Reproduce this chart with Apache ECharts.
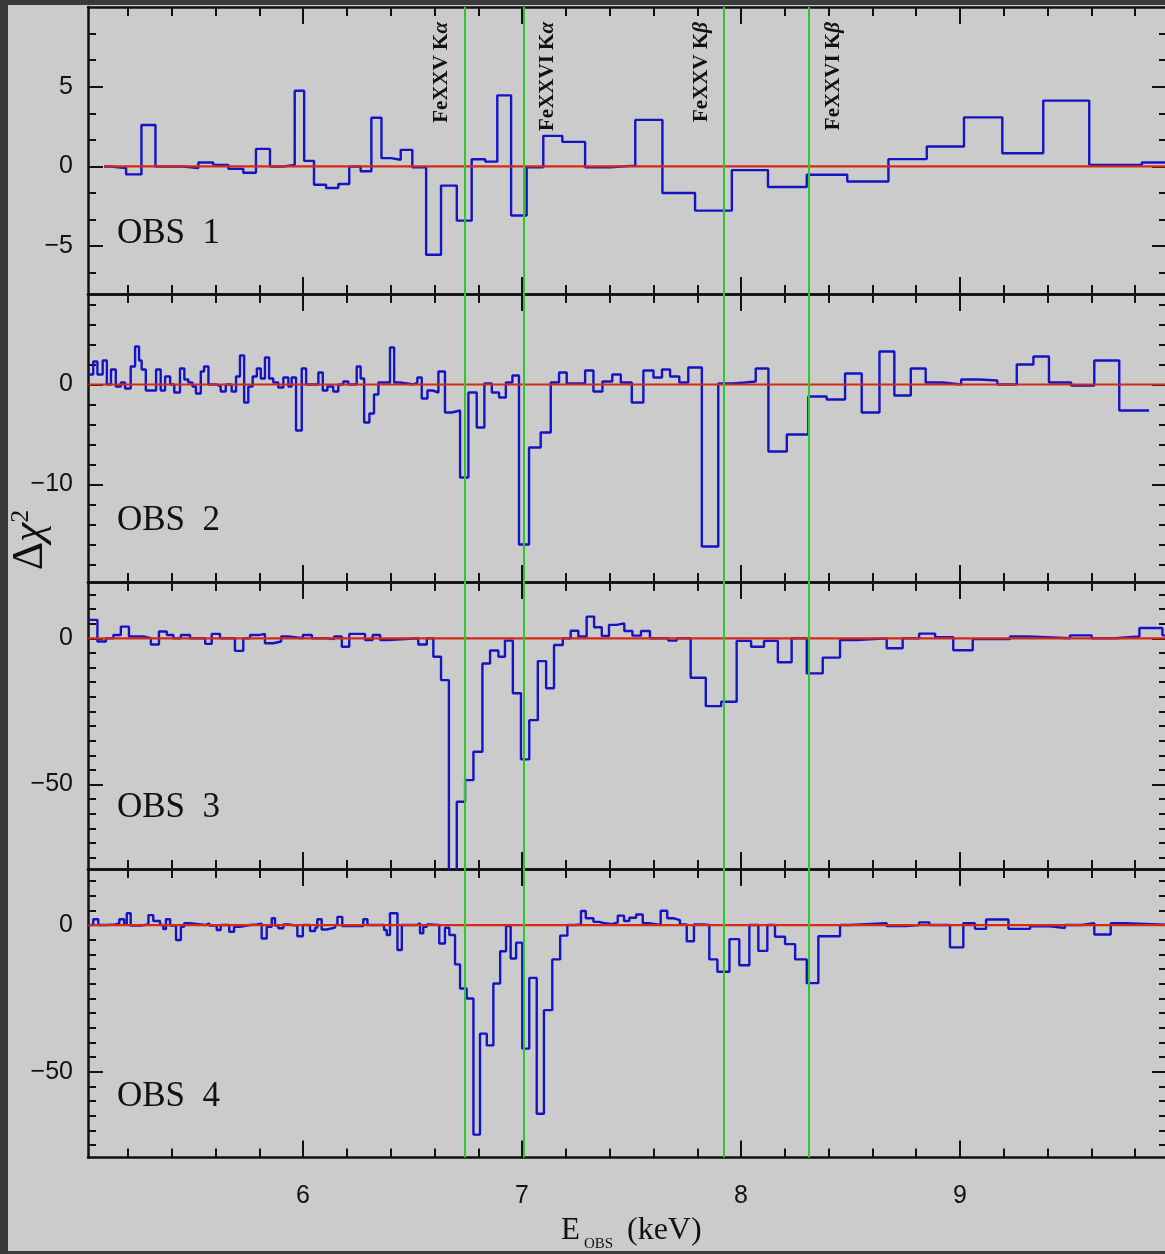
<!DOCTYPE html>
<html>
<head>
<meta charset="utf-8">
<script src="https://cdn.jsdelivr.net/npm/echarts@6/dist/echarts.min.js"></script>
<style>
  html, body { margin: 0; padding: 0; background: #3a3a3a; }
  #chart { width: 1165px; height: 1254px; }
</style>
</head>
<body>
<div id="chart"></div>
<script>
// ---- Energy axis (keV) ----
const E_MIN = 5.018;
const E_MAX = 9.945;
const E_MAJOR_TICKS = [6, 7, 8, 9];
const E_MINOR_TICKS = [5.2, 5.4, 5.6, 5.8, 6.2, 6.4, 6.6, 6.8, 7.2, 7.4, 7.6, 7.8,
                       8.2, 8.4, 8.6, 8.8, 9.2, 9.4, 9.6, 9.8];

// ---- Observed energies of the iron lines ----
const LINE_NAMES = ['FeXXV K', 'FeXXVI K', 'FeXXV K', 'FeXXVI K'];
const LINE_GREEK = ['α', 'α', 'β', 'β'];
const LINE_ENERGIES = [6.742, 7.007, 7.925, 8.313];
const LINE_LABEL_SIDE = [-1, 1, -1, 1];

// ---- Panels ----
const OBS_NAMES = ['OBS  1', 'OBS  2', 'OBS  3', 'OBS  4'];
const Y_RANGES = [[-8, 10], [-19.75, 9.05], [-78.9, 19.25], [-79.2, 19.1]];
const Y_MAJOR_TICKS = [[-5, 0, 5], [-10, 0], [-50, 0], [-50, 0]];
const Y_MINOR_TICKS = [
  [-6.667, -3.333, -1.667, 1.667, 3.333, 6.667, 8.333],
  [-18, -16, -14, -12, -8, -6, -4, -2, 2, 4, 6, 8],
  [-75, -70, -65, -60, -55, -45, -40, -35, -30, -25, -20, -15, -10, -5, 5, 10, 15],
  [-75, -70, -65, -60, -55, -45, -40, -35, -30, -25, -20, -15, -10, -5, 5, 10, 15]
];

// ---- Residuals: bin edges (keV, last entry = upper edge of last bin) and delta chi^2 per bin ----
const OBS1_EDGES = [5.091, 5.119, 5.192, 5.262, 5.326, 5.453, 5.522, 5.590, 5.659, 5.727,
  5.785, 5.849, 5.910, 5.962, 6.005, 6.050, 6.105, 6.161, 6.211, 6.263,
  6.312, 6.358, 6.402, 6.446, 6.499, 6.562, 6.630, 6.702, 6.770, 6.832,
  6.887, 6.950, 7.021, 7.097, 7.184, 7.288, 7.402, 7.517, 7.641, 7.790,
  7.958, 8.123, 8.300, 8.485, 8.673, 8.848, 9.018, 9.193, 9.380, 9.590,
  9.830, 9.990];
const OBS1_DCHI = [0.0, -0.1, -0.5, 2.6, 0.0, -0.1, 0.25, 0.1, -0.15, -0.4,
  1.1, 0.0, 0.1, 4.75, 0.35, -1.15, -1.35, -1.1, 0.0, -0.3,
  3.05, 0.52, 0.42, 1.04, -0.05, -5.54, -1.2, -3.4, 0.45, 0.3,
  4.46, -3.08, -0.05, 1.92, 1.54, -0.05, 0.05, 2.92, -1.67, -2.77,
  -0.23, -1.29, -0.52, -0.94, 0.46, 1.25, 3.08, 0.83, 4.13, 0.1,
  0.25];

const OBS2_EDGES = [5.020, 5.042, 5.061, 5.085, 5.104, 5.123, 5.145, 5.168, 5.187, 5.213,
  5.233, 5.251, 5.263, 5.282, 5.329, 5.350, 5.370, 5.393, 5.412, 5.438,
  5.458, 5.476, 5.495, 5.511, 5.533, 5.548, 5.568, 5.606, 5.624, 5.647,
  5.674, 5.694, 5.712, 5.731, 5.750, 5.770, 5.789, 5.807, 5.826, 5.845,
  5.864, 5.887, 5.910, 5.933, 5.948, 5.968, 5.994, 6.014, 6.070, 6.090,
  6.111, 6.138, 6.161, 6.184, 6.207, 6.245, 6.263, 6.279, 6.303, 6.324,
  6.344, 6.397, 6.416, 6.443, 6.504, 6.522, 6.542, 6.568, 6.592, 6.618,
  6.648, 6.679, 6.717, 6.755, 6.793, 6.828, 6.862, 6.895, 6.926, 6.956,
  6.986, 7.032, 7.085, 7.131, 7.169, 7.204, 7.288, 7.326, 7.367, 7.412,
  7.451, 7.501, 7.554, 7.600, 7.639, 7.676, 7.718, 7.759, 7.821, 7.896,
  7.965, 8.018, 8.067, 8.125, 8.209, 8.307, 8.391, 8.475, 8.551, 8.632,
  8.700, 8.775, 8.843, 8.921, 9.005, 9.087, 9.170, 9.259, 9.335, 9.406,
  9.507, 9.613, 9.727, 9.863];
const OBS2_DCHI = [1.0, 2.3, 1.0, 2.4, 0.0, 1.5, -0.2, 0.2, -0.4, 1.8,
  3.8, 2.4, 1.5, -0.6, 1.5, -0.6, 0.8, 0.0, -0.8, 1.6,
  0.5, 0.2, -0.2, -0.9, 1.3, 1.8, 0.0, -0.2, -0.7, 0.0,
  -0.7, 0.8, 2.9, -1.8, -0.2, 0.8, 1.6, 0.6, 2.7, 0.6,
  0.2, -0.3, 0.7, -0.2, 0.7, -4.6, 1.6, 0.0, 1.2, -0.6,
  -0.2, -0.7, 0.0, 0.3, 0.0, 1.8, 0.6, -3.8, -2.9, -1.0,
  0.2, 3.7, 0.2, 0.0, 0.2, 0.7, -1.4, -0.6, -0.8, 1.3,
  -2.8, -2.6, -9.3, -0.8, -4.3, 0.1, -0.8, -1.3, 0.2, 0.9,
  -16.0, -6.3, -4.8, 0.2, 1.2, 0.1, 1.4, -0.7, 0.3, 1.0,
  0.2, -1.8, 1.4, 0.7, 1.5, 0.8, 0.2, 1.7, -16.2, 0.1,
  0.2, 0.3, 1.6, -6.7, -5.0, -1.2, -1.5, 1.1, -2.8, 3.3,
  -1.1, 1.6, 0.2, 0.0, 0.5, 0.4, 0.0, 2.0, 2.8, 0.2,
  -0.1, 2.4, -2.6];

const OBS3_EDGES = [5.020, 5.061, 5.100, 5.134, 5.168, 5.205, 5.271, 5.305, 5.342, 5.378,
  5.408, 5.442, 5.484, 5.553, 5.583, 5.621, 5.689, 5.727, 5.758, 5.796,
  5.826, 5.864, 5.900, 5.933, 5.999, 6.040, 6.108, 6.142, 6.177, 6.211,
  6.283, 6.318, 6.352, 6.390, 6.526, 6.565, 6.595, 6.630, 6.666, 6.702,
  6.740, 6.778, 6.819, 6.854, 6.892, 6.922, 6.958, 6.995, 7.033, 7.072,
  7.110, 7.146, 7.186, 7.222, 7.257, 7.295, 7.329, 7.364, 7.397, 7.432,
  7.467, 7.504, 7.543, 7.584, 7.668, 7.706, 7.770, 7.839, 7.909, 7.980,
  8.046, 8.105, 8.168, 8.231, 8.300, 8.373, 8.452, 8.528, 8.665, 8.738,
  8.813, 8.886, 8.969, 9.058, 9.228, 9.312, 9.502, 9.601, 9.708, 9.819,
  9.924, 9.990];
const OBS3_DCHI = [6.3, -1.1, 0.0, 1.1, 4.0, 0.6, 0.0, -2.1, 2.3, 1.1,
  0.0, 1.1, 0.0, -1.9, 1.5, 0.0, -4.3, 0.0, 1.1, 1.5,
  -1.7, -1.1, 0.6, 0.0, 1.1, 0.0, -0.3, 0.6, -2.9, 1.5,
  -0.6, 1.1, -0.6, 0.0, -2.1, 0.0, -6.3, -14.3, -96.0, -55.9,
  -48.5, -38.8, -8.6, -4.2, -6.3, -0.8, -18.8, -41.4, -28.0, -7.8,
  -17.1, -2.3, 0.0, 2.6, 0.6, 7.4, 3.8, 0.8, 4.6, 5.1,
  2.5, 0.9, 2.5, 0.0, -0.8, 0.0, -13.5, -23.2, -21.7, -0.9,
  -2.9, -0.9, -8.2, 0.0, -12.0, -6.6, -0.6, 0.0, -3.4, 0.0,
  1.6, 0.4, -4.1, -0.3, 0.6, 0.0, 1.0, 0.0, 0.6, 3.5,
  1.0];

const OBS4_EDGES = [5.020, 5.042, 5.065, 5.104, 5.142, 5.161, 5.183, 5.195, 5.213, 5.256,
  5.294, 5.316, 5.347, 5.362, 5.374, 5.393, 5.420, 5.442, 5.457, 5.484,
  5.553, 5.572, 5.606, 5.624, 5.663, 5.685, 5.712, 5.758, 5.789, 5.811,
  5.834, 5.857, 5.872, 5.887, 5.910, 5.933, 5.974, 5.999, 6.032, 6.055,
  6.065, 6.085, 6.108, 6.146, 6.157, 6.179, 6.275, 6.294, 6.370, 6.382,
  6.397, 6.431, 6.451, 6.519, 6.534, 6.549, 6.565, 6.580, 6.622, 6.648,
  6.668, 6.694, 6.717, 6.747, 6.778, 6.808, 6.839, 6.869, 6.900, 6.927,
  6.948, 6.973, 7.001, 7.033, 7.067, 7.100, 7.138, 7.174, 7.207, 7.242,
  7.269, 7.291, 7.326, 7.353, 7.379, 7.410, 7.437, 7.466, 7.490, 7.521,
  7.551, 7.577, 7.633, 7.663, 7.694, 7.721, 7.752, 7.785, 7.825, 7.855,
  7.892, 7.947, 7.992, 8.038, 8.079, 8.120, 8.155, 8.201, 8.247, 8.300,
  8.353, 8.452, 8.498, 8.665, 8.757, 8.813, 8.860, 8.954, 9.015, 9.068,
  9.119, 9.221, 9.320, 9.411, 9.479, 9.556, 9.613, 9.688, 9.753, 9.990];
const OBS4_DCHI = [0.0, 2.0, 0.0, 0.2, 0.6, 2.0, 0.2, 4.0, -0.2, 0.2,
  3.4, 1.4, 0.0, -1.4, 2.0, -0.2, -5.1, -0.6, 0.6, 0.0,
  0.6, -0.2, -1.7, 0.0, -2.3, -0.6, 0.0, 0.2, 0.5, -4.6,
  -0.6, 2.3, -0.2, -1.1, 0.2, -0.2, -3.8, 0.0, -2.0, -0.9,
  2.0, -1.5, -0.9, 0.0, 2.8, -0.3, 2.0, 0.0, -1.7, -3.4,
  4.0, -8.5, 0.0, 0.6, -2.8, -0.6, 0.2, 0.0, -6.3, -0.9,
  -3.4, -13.4, -21.6, -25.0, -71.4, -37.0, -41.0, -19.9, -8.9, -0.3,
  -11.4, -6.0, -42.1, -18.0, -64.3, -29.0, -11.7, -3.6, 0.0, 0.2,
  4.8, 2.3, 1.1, 0.6, 0.3, 0.9, 3.2, 1.4, 2.5, 3.6,
  0.6, 0.0, 4.9, 2.3, 1.7, 0.2, -5.5, 0.2, 0.0, -11.7,
  -15.9, -4.8, -13.7, 0.0, -8.8, 0.0, -4.0, -6.5, -11.7, -19.8,
  -3.8, 0.0, 0.6, -0.3, 0.0, 0.9, 0.0, -7.6, 0.6, -1.3,
  1.9, -1.3, -0.4, -1.0, 0.0, 0.6, -3.2, 0.6, 0.0];

const PANEL_EDGES = [OBS1_EDGES, OBS2_EDGES, OBS3_EDGES, OBS4_EDGES];
const PANEL_DCHI = [OBS1_DCHI, OBS2_DCHI, OBS3_DCHI, OBS4_DCHI];
const ZERO_LINE_END = 9.99;

// ---- Layout and style ----
const GRID_LEFT = 88, GRID_WIDTH = 1079;
const PANEL_TOPS = [7, 294, 582, 869];
const PANEL_HEIGHTS = [287, 288, 287, 288.5];
const OBS_LABEL_Y = [234, 521, 808, 1097];
const INK = '#111111';
const RESID_COLOR = '#1414c4';
const MODEL_COLOR = '#d42a16';
const LINE_COLOR = '#2ec82e';
const SANS = '"Liberation Sans", Arial, sans-serif';
const SERIF = '"Liberation Serif", "Times New Roman", serif';

function stepPoints(edges, vals) {
  const pts = [];
  for (let i = 0; i < vals.length; i++) pts.push([edges[i], vals[i]]);
  pts.push([edges[vals.length], vals[vals.length - 1]]);
  return pts;
}

const minus = v => String(v).replace('-', '\u2212');

const grids = [], xAxes = [], yAxes = [], series = [];

for (let g = 0; g < 4; g++) {
  grids.push({
    left: GRID_LEFT, top: PANEL_TOPS[g], width: GRID_WIDTH, height: PANEL_HEIGHTS[g],
    containLabel: false, outerBoundsMode: 'none'
  });

  const xBase = { gridIndex: g, type: 'value', min: E_MIN, max: E_MAX, splitLine: { show: false } };
  const frame = { show: true, onZero: false, lineStyle: { color: INK, width: 2.5 } };
  const noFrame = { show: false, onZero: false };
  const tick = (vals, len) => ({ show: true, inside: true, length: len, customValues: vals,
                                 lineStyle: { color: INK, width: 2 } });
  xAxes.push(
    Object.assign({}, xBase, {
      position: 'bottom', axisLine: frame, axisTick: tick(E_MAJOR_TICKS, 17),
      axisLabel: { show: g === 3, customValues: E_MAJOR_TICKS, margin: 26, fontSize: 25,
                   fontFamily: SANS, color: INK }
    }),
    Object.assign({}, xBase, { position: 'bottom', axisLine: noFrame,
      axisTick: tick(E_MINOR_TICKS, 9), axisLabel: { show: false } }),
    Object.assign({}, xBase, { position: 'top', axisLine: frame,
      axisTick: tick(E_MAJOR_TICKS, 17), axisLabel: { show: false } }),
    Object.assign({}, xBase, { position: 'top', axisLine: noFrame,
      axisTick: tick(E_MINOR_TICKS, 9), axisLabel: { show: false } })
  );

  const yBase = { gridIndex: g, type: 'value', min: Y_RANGES[g][0], max: Y_RANGES[g][1],
                  splitLine: { show: false } };
  yAxes.push(
    Object.assign({}, yBase, {
      position: 'left', axisLine: frame, axisTick: tick(Y_MAJOR_TICKS[g], 15),
      axisLabel: { show: true, customValues: Y_MAJOR_TICKS[g], margin: 15, fontSize: 25,
                   fontFamily: SANS, color: INK, formatter: minus }
    }),
    Object.assign({}, yBase, { position: 'left', axisLine: noFrame,
      axisTick: tick(Y_MINOR_TICKS[g], 8), axisLabel: { show: false } }),
    Object.assign({}, yBase, { position: 'right', axisLine: frame,
      axisTick: tick(Y_MAJOR_TICKS[g], 15), axisLabel: { show: false } }),
    Object.assign({}, yBase, { position: 'right', axisLine: noFrame,
      axisTick: tick(Y_MINOR_TICKS[g], 8), axisLabel: { show: false } })
  );

  const edges = PANEL_EDGES[g];
  series.push({
    name: 'residuals ' + (g + 1), type: 'line', xAxisIndex: 4 * g, yAxisIndex: 4 * g,
    step: 'end', showSymbol: false, symbol: 'none', clip: true, z: 3,
    lineStyle: { color: RESID_COLOR, width: 2.4 },
    data: stepPoints(edges, PANEL_DCHI[g])
  });
  series.push({
    name: 'model ' + (g + 1), type: 'line', xAxisIndex: 4 * g, yAxisIndex: 4 * g,
    showSymbol: false, symbol: 'none', clip: true, z: 4,
    lineStyle: { color: MODEL_COLOR, width: 2.2 },
    data: [[edges[0], 0], [ZERO_LINE_END, 0]],
    markLine: {
      silent: true, symbol: ['none', 'none'], animation: false, z: 5,
      label: { show: false },
      lineStyle: { color: LINE_COLOR, width: 2, type: 'solid' },
      emphasis: { disabled: true },
      data: LINE_ENERGIES.map(e => ({ xAxis: e }))
    }
  });
}

const chart = echarts.init(document.getElementById('chart'), null, { renderer: 'canvas' });
chart.setOption({
  backgroundColor: '#cbcbcb',
  animation: false,
  grid: grids,
  xAxis: xAxes,
  yAxis: yAxes,
  series: series
});

// Text and frame decorations; line labels follow the energy scale of the top panel.
const graphics = [
  { type: 'rect', z: 100, shape: { x: 0, y: 0, width: 1165, height: 5 }, style: { fill: '#3a3a3a' } },
  { type: 'rect', z: 100, shape: { x: 0, y: 0, width: 8, height: 1254 }, style: { fill: '#3a3a3a' } },
  { type: 'rect', z: 100, shape: { x: 0, y: 1251, width: 1165, height: 3 }, style: { fill: '#3a3a3a' } },
  { type: 'text', z: 50, x: 30, y: 540, rotation: Math.PI / 2,
    style: { text: '{d|Δ}{c|χ}{s|2}', align: 'center', verticalAlign: 'middle', fill: INK,
      rich: {
        d: { fontSize: 44, lineHeight: 44, fontFamily: SERIF, fill: INK, verticalAlign: 'bottom' },
        c: { fontSize: 44, lineHeight: 44, fontFamily: SERIF, fontStyle: 'italic', fill: INK, verticalAlign: 'bottom' },
        s: { fontSize: 26, lineHeight: 26, fontFamily: SERIF, fill: INK, verticalAlign: 'top' }
      } } },
  { type: 'text', z: 50, x: 561, y: 1231,
    style: { text: 'E', fontSize: 31, fontFamily: SERIF, fill: INK, align: 'left', verticalAlign: 'middle' } },
  { type: 'text', z: 50, x: 584, y: 1244,
    style: { text: 'OBS', fontSize: 15, fontFamily: SERIF, fill: INK, align: 'left', verticalAlign: 'middle' } },
  { type: 'text', z: 50, x: 627, y: 1231,
    style: { text: '(keV)', fontSize: 32, fontFamily: SERIF, fill: INK, align: 'left', verticalAlign: 'middle' } }
];

OBS_NAMES.forEach((name, g) => {
  graphics.push({ type: 'text', z: 50, x: 117, y: OBS_LABEL_Y[g],
    style: { text: name, fontSize: 35, fontFamily: SERIF, fill: INK, align: 'left', verticalAlign: 'middle' } });
});

LINE_ENERGIES.forEach((e, i) => {
  const px = chart.convertToPixel({ xAxisIndex: 0 }, e);
  graphics.push({ type: 'text', z: 50, x: px + LINE_LABEL_SIDE[i] * 23.5, y: 22, rotation: Math.PI / 2,
    style: { text: LINE_NAMES[i] + '{g|' + LINE_GREEK[i] + '}', align: 'right', verticalAlign: 'middle',
      fontSize: 21, fontWeight: 'bold', fontFamily: SERIF, fill: INK,
      rich: { g: { fontSize: 21, fontWeight: 'bold', fontStyle: 'italic', fontFamily: SERIF, fill: INK } } } });
});

chart.setOption({ graphic: graphics });
</script>
</body>
</html>
